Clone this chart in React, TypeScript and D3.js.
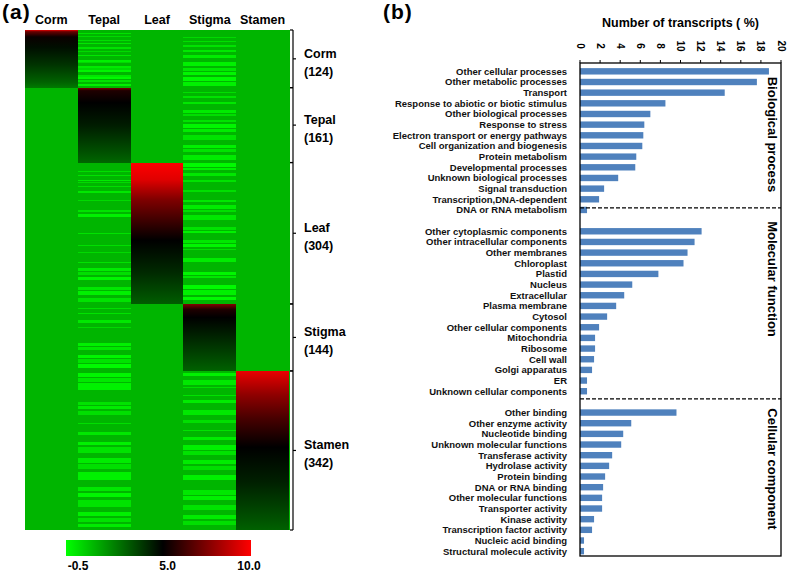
import * as d3 from "d3";

// ---------- heatmap data ----------
const tissues = ["Corm", "Tepal", "Leaf", "Stigma", "Stamen"];
const tissueCounts = [124, 161, 304, 144, 342];
const baseValue = 1.1;

// expression along each tissue's own block: [fraction of block, value]
const cormProfile = [[0, 9.5], [0.03, 7], [0.12, 5.2], [0.3, 4.7], [0.6, 3.9], [0.9, 2.9], [1, 2.4]];
const tepalProfile = [[0, 7.5], [0.04, 5.6], [0.2, 5], [0.5, 4.4], [0.85, 3.3], [1, 2.8]];
const leafProfile = [[0, 10], [0.12, 9.4], [0.26, 7.5], [0.55, 5], [0.78, 4.1], [1, 3]];
const stigmaProfile = [[0, 7.6], [0.08, 5.6], [0.2, 5], [0.5, 4.2], [0.85, 3.3], [1, 2.9]];
const stamenProfile = [[0, 9.6], [0.15, 7.8], [0.3, 6.4], [0.48, 5], [0.7, 4.3], [0.92, 3.3], [1, 2.9]];
const profiles = [cormProfile, tepalProfile, leafProfile, stigmaProfile, stamenProfile];

// lighter rows in the non-specific columns: [startRow, endRow, value]
const tepalStripes = [
  [6, 9, 0.1], [13, 15, 0.3], [22, 24, 0.2], [28, 30, 0], [37, 41, 0.1], [45, 47, 0.3], [54, 56, 0],
  [65, 68, -0.2], [69, 71, 0.3], [77, 81, -0.1], [82, 85, 0.3], [86, 90, -0.3], [97, 101, 0],
  [102, 106, -0.4], [107, 112, 0.1], [116, 120, -0.2],
  [303, 305, 0.2], [311, 313, 0.1], [322, 325, -0.1], [326, 329, 0.3], [335, 337, 0.2], [346, 350, 0],
  [365, 367, 0.3], [387, 392, 0.1], [395, 402, -0.2], [414, 416, 0.3], [436, 438, 0.1], [462, 464, 0.2],
  [477, 479, 0.3], [498, 500, 0.1], [512, 518, -0.1], [521, 527, 0.2], [530, 537, -0.3], [552, 558, 0],
  [562, 570, -0.2], [576, 585, 0.1],
  [597, 599, 0.2], [608, 610, 0.1], [623, 630, 0], [638, 640, 0.3], [673, 679, -0.2], [682, 688, 0],
  [699, 705, -0.3], [708, 715, 0.1], [718, 727, -0.4],
  [737, 745, -0.3], [748, 756, 0], [759, 774, -0.2], [800, 806, 0.1], [809, 815, -0.1], [820, 828, 0.2],
  [845, 847, 0.2], [864, 871, 0], [886, 892, -0.2], [897, 909, 0.1], [920, 930, -0.1], [934, 944, 0.2],
  [950, 968, -0.2], [983, 992, 0], [996, 1004, -0.3], [1010, 1026, 0.1], [1036, 1045, -0.2],
  [1050, 1058, 0.1], [1062, 1069, -0.1],
];
const stigmaStripes = [
  [15, 17, 0.3], [23, 25, 0.2], [32, 37, 0.1], [43, 47, 0], [54, 60, -0.1], [69, 77, -0.2], [82, 89, 0],
  [90, 97, -0.3], [101, 110, -0.4], [112, 120, -0.2],
  [133, 135, 0.2], [142, 146, 0.1], [155, 159, 0], [172, 178, -0.1], [180, 185, 0.2], [194, 198, 0.1],
  [202, 210, -0.3], [212, 219, -0.1], [226, 236, 0.1], [247, 254, -0.2], [256, 262, 0.1], [269, 280, -0.1],
  [286, 294, -0.4], [296, 301, -0.2], [307, 314, 0], [322, 327, 0.1], [344, 348, 0.2], [365, 370, 0],
  [376, 384, -0.1], [386, 391, 0.2], [398, 408, 0], [424, 430, 0.1], [432, 436, -0.2], [451, 458, 0],
  [461, 467, -0.3], [471, 473, 0.2], [490, 499, -0.1], [520, 527, -0.3], [529, 533, 0], [548, 556, -0.4],
  [560, 570, -0.2], [573, 580, -0.4],
  [737, 744, -0.2], [752, 763, 0], [768, 770, 0.2], [784, 786, 0.1], [795, 802, -0.1], [817, 828, 0],
  [838, 845, 0.2], [860, 862, 0.1], [875, 882, -0.1], [892, 902, -0.2], [905, 914, 0.1], [924, 934, -0.1],
  [937, 946, 0.2], [957, 968, -0.2], [989, 999, 0], [1002, 1010, -0.2], [1021, 1032, 0.1],
  [1043, 1052, -0.1], [1055, 1064, 0.2],
];
const columnStripes: Record<string, number[][]> = { Tepal: tepalStripes, Stigma: stigmaStripes };

const legendTicks = [-0.5, 5.0, 10.0];

// ---------- bar chart data ----------
const bioLabels = [
  "Other cellular processes", "Other metabolic processes", "Transport",
  "Response to abiotic or biotic stimulus", "Other biological processes", "Response to stress",
  "Electron transport or energy pathways", "Cell organization and biogenesis", "Protein metabolism",
  "Developmental processes", "Unknown biological processes", "Signal transduction",
  "Transcription,DNA-dependent", "DNA or RNA metabolism",
];
const bioValues = [18.8, 17.6, 14.4, 8.5, 7.0, 6.4, 6.3, 6.2, 5.6, 5.5, 3.8, 2.4, 1.9, 0.7];
const molLabels = [
  "Other cytoplasmic components", "Other intracellular components", "Other membranes", "Chloroplast",
  "Plastid", "Nucleus", "Extracellular", "Plasma membrane", "Cytosol", "Other cellular components",
  "Mitochondria", "Ribosome", "Cell wall", "Golgi apparatus", "ER", "Unknown cellular components",
];
const molValues = [12.1, 11.4, 10.7, 10.3, 7.8, 5.2, 4.4, 3.6, 2.7, 1.9, 1.5, 1.5, 1.4, 1.2, 0.7, 0.7];
const cellLabels = [
  "Other binding", "Other enzyme activity", "Nucleotide binding", "Unknown molecular functions",
  "Transferase activity", "Hydrolase activity", "Protein binding", "DNA or RNA binding",
  "Other molecular functions", "Transporter activity", "Kinase activity", "Transcription factor activity",
  "Nucleic acid binding", "Structural molecule activity",
];
const cellValues = [9.6, 5.1, 4.3, 4.1, 3.2, 2.9, 2.5, 2.3, 2.2, 2.2, 1.4, 1.2, 0.4, 0.4];
const groupNames = ["Biological process", "Molecular function", "Cellular component"];
const xTicks = [0, 2, 4, 6, 8, 10, 12, 14, 16, 18, 20];

const FONT = "'Liberation Sans', Arial, sans-serif";

export default function App() {
  const width = 787;
  const height = 573;

  // heatmap scales
  const total = d3.sum(tissueCounts);
  const xHeat = d3.scaleBand<string>().domain(tissues).range([25, 289]);
  const yHeat = d3.scaleLinear().domain([0, total]).range([30, 530]);
  const starts = tissueCounts.map((_, i) => d3.sum(tissueCounts.slice(0, i)));
  const color = d3
    .scaleLinear<string>()
    .domain([-0.5, 5, 10])
    .range(["#00ff00", "#000000", "#ff0000"])
    .interpolate(d3.interpolateRgb)
    .clamp(true);

  const legendX = d3.scaleLinear().domain([-0.5, 10]).range([66, 251]);
  const legendLabelX = d3.scaleLinear().domain([-0.5, 10]).range([78, 249]);

  // bar scales
  const barRows = [...bioLabels, "__gap1", ...molLabels, "__gap2", ...cellLabels];
  const xBar = d3.scaleLinear().domain([0, 20]).range([580, 781]);
  const yBar = d3
    .scaleBand<string>()
    .domain(barRows)
    .range([66, 556.5])
    .paddingInner(0.4)
    .paddingOuter(0.2);
  const bw = yBar.bandwidth();
  const bars = [
    ...bioLabels.map((l, i) => ({ label: l, value: bioValues[i] })),
    ...molLabels.map((l, i) => ({ label: l, value: molValues[i] })),
    ...cellLabels.map((l, i) => ({ label: l, value: cellValues[i] })),
  ];
  const boxTop = 63;
  const boxBottom = 556;
  const dash1 = (yBar(bioLabels[bioLabels.length - 1]) ?? 0) + bw / 2 - 2;
  const dash2 = (yBar("__gap2") ?? 0) + bw / 2 - 3;
  const groupCenters = [134.5, 279, 469];

  return (
    <svg
      width={width}
      height={height}
      style={{ position: "absolute", left: 0, top: 0, fontFamily: FONT, fontWeight: "bold" }}
    >
      <defs>
        {profiles.map((p, i) => (
          <linearGradient key={i} id={`grad-${i}`} x1="0" y1="0" x2="0" y2="1">
            {p.map(([f, v], j) => (
              <stop key={j} offset={f} stopColor={color(v)} />
            ))}
          </linearGradient>
        ))}
        <linearGradient id="legend-grad" x1="0" y1="0" x2="1" y2="0">
          {legendTicks.map((v, j) => (
            <stop key={j} offset={(legendX(v) - 66) / (251 - 66)} stopColor={color(v)} />
          ))}
        </linearGradient>
      </defs>

      {/* (a) heatmap */}
      <text x={2} y={19} fontSize={21} letterSpacing={1}>(a)</text>
      {tissues.map((t) => (
        <text key={t} x={(xHeat(t) ?? 0) + xHeat.bandwidth() / 2} y={24} fontSize={12.5} textAnchor="middle">
          {t}
        </text>
      ))}
      <g shapeRendering="crispEdges">
        {tissues.map((t) => (
          <rect
            key={t}
            x={xHeat(t)}
            y={yHeat(0)}
            width={xHeat.bandwidth() + 0.5}
            height={yHeat(total) - yHeat(0)}
            fill={color(baseValue)}
          />
        ))}
        {Object.entries(columnStripes).map(([t, stripes]) =>
          stripes.map(([a, b, v], k) => (
            <rect
              key={`${t}-${k}`}
              x={xHeat(t)}
              y={yHeat(a)}
              width={xHeat.bandwidth()}
              height={Math.max(0.8, yHeat(b) - yHeat(a))}
              fill={color(v)}
            />
          ))
        )}
        {tissues.map((t, i) => (
          <rect
            key={`blk-${t}`}
            x={xHeat(t)}
            y={yHeat(starts[i])}
            width={xHeat.bandwidth()}
            height={yHeat(starts[i] + tissueCounts[i]) - yHeat(starts[i])}
            fill={`url(#grad-${i})`}
          />
        ))}
      </g>

      {/* bracket with group labels */}
      <g stroke="#000" strokeWidth={1.2} fill="none">
        <line x1={293} x2={293} y1={yHeat(0)} y2={yHeat(total)} />
        {tissues.map((t, i) => {
          const y0 = yHeat(starts[i]);
          const y1 = yHeat(starts[i] + tissueCounts[i]);
          return (
            <g key={t}>
              <line x1={290} x2={293} y1={y0} y2={y0} />
              <line x1={290} x2={293} y1={y1} y2={y1} />
              <line x1={293} x2={296} y1={(y0 + y1) / 2} y2={(y0 + y1) / 2} />
            </g>
          );
        })}
      </g>
      {tissues.map((t, i) => {
        const yc = yHeat(starts[i] + tissueCounts[i] / 2);
        return (
          <g key={`lab-${t}`} fontSize={12.5}>
            <text x={304} y={yc - 5} dominantBaseline="central">{t}</text>
            <text x={304} y={yc + 13} dominantBaseline="central">({tissueCounts[i]})</text>
          </g>
        );
      })}

      {/* colour legend */}
      <rect x={66} y={540} width={185} height={16} fill="url(#legend-grad)" />
      {legendTicks.map((v) => (
        <text key={v} x={legendLabelX(v)} y={570} fontSize={12} textAnchor="middle">
          {v.toFixed(1)}
        </text>
      ))}

      {/* (b) bar chart */}
      <text x={383} y={19} fontSize={21} letterSpacing={1}>(b)</text>
      <text x={680.5} y={27} fontSize={12.5} textAnchor="middle">Number of transcripts ( %)</text>
      {xTicks.map((v) => (
        <g key={v}>
          <line x1={xBar(v)} x2={xBar(v)} y1={boxTop - 3} y2={boxTop} stroke="#000" strokeWidth={1} />
          <text
            transform={`translate(${xBar(v)},46) rotate(90)`}
            fontSize={10}
            textAnchor="middle"
            dominantBaseline="central"
          >
            {v}
          </text>
        </g>
      ))}
      {bars.map((d) => (
        <g key={d.label}>
          <rect
            x={xBar(0)}
            y={yBar(d.label)}
            width={xBar(d.value) - xBar(0)}
            height={bw}
            fill="#4f81bd"
          />
          <text
            x={567}
            y={(yBar(d.label) ?? 0) + bw / 2}
            fontSize={9.5}
            textAnchor="end"
            dominantBaseline="central"
            fill="#111"
          >
            {d.label}
          </text>
        </g>
      ))}
      <line x1={xBar(0)} x2={xBar(20)} y1={dash1} y2={dash1} stroke="#000" strokeWidth={1.2} strokeDasharray="4,2" />
      <line x1={xBar(0)} x2={xBar(20)} y1={dash2} y2={dash2} stroke="#000" strokeWidth={1.2} strokeDasharray="4,2" />
      <rect
        x={xBar(0)}
        y={boxTop}
        width={xBar(20) - xBar(0)}
        height={boxBottom - boxTop}
        fill="none"
        stroke="#000"
        strokeWidth={1.3}
      />
      {groupNames.map((g, i) => (
        <text
          key={g}
          transform={`translate(772,${groupCenters[i]}) rotate(90)`}
          fontSize={13}
          textAnchor="middle"
          dominantBaseline="central"
        >
          {g}
        </text>
      ))}
    </svg>
  );
}
